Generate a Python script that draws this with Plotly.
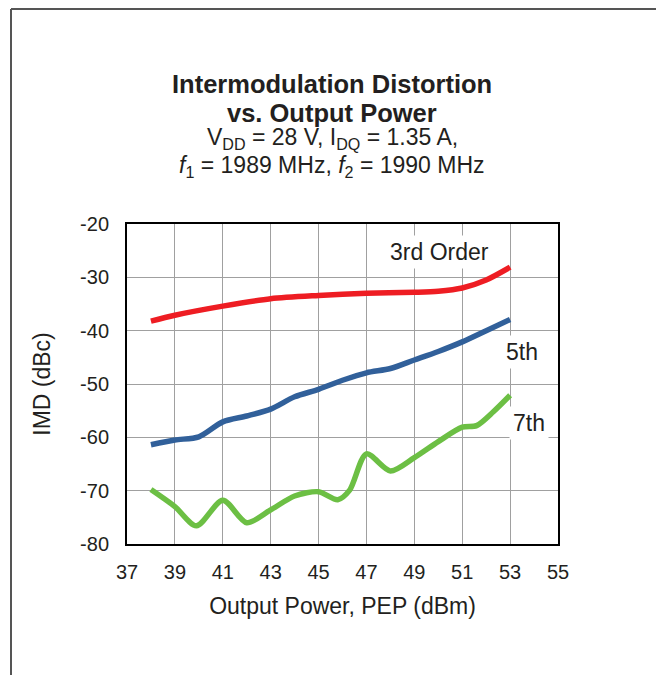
import plotly.graph_objects as go

# ---- data ----
x_3rd = [38, 39, 41, 43, 45, 47, 49, 50, 51, 52, 53]
y_3rd = [-38.2, -37.1, -35.4, -34.0, -33.4, -33.0, -32.8, -32.6, -32.0, -30.5, -28.1]

x_5th = [38, 39, 40, 41, 42, 43, 44, 45, 46, 47, 48, 49, 50, 51, 52, 53]
y_5th = [-61.4, -60.5, -59.9, -57.1, -56.0, -54.7, -52.4, -51.0, -49.3, -47.9, -47.1,
         -45.5, -43.9, -42.1, -40.0, -37.9]

x_7th = [38, 39, 39.9, 41, 42, 43, 44, 45, 45.8, 46.3, 47, 48, 49, 50, 51, 51.6, 52.3, 53]
y_7th = [-69.8, -73.0, -76.6, -71.8, -76.0, -73.6, -71.0, -70.2, -71.7, -69.9, -63.1,
         -66.3, -63.8, -60.8, -58.1, -57.8, -55.2, -52.1]

series_names = ["3rd Order", "5th", "7th"]
series_colors = ["#EE1D23", "#31609A", "#6CBF44"]

x_ticks = [37, 39, 41, 43, 45, 47, 49, 51, 53, 55]
y_ticks = [-20, -30, -40, -50, -60, -70, -80]

FONT = "Liberation Sans, Arial, sans-serif"

# page offset of the plotly div (body margin)
OFF = 8
W, H = 664 - OFF, 675 - OFF
# plot area geometry in page pixels
L, R, T, B = 127, 558, 224, 544


def px(xp):
    return (xp - L) / (R - L)


def py(yp):
    return (B - yp) / (B - T)


fig = go.Figure()
for xs, ys, name, col in zip([x_3rd, x_5th, x_7th], [y_3rd, y_5th, y_7th],
                             series_names, series_colors):
    fig.add_trace(go.Scatter(x=xs, y=ys, mode="lines", name=name,
                             line=dict(color=col, width=5.5, shape="spline", smoothing=0.8),
                             showlegend=False))

# curve labels
label_pos = [(50.07, -25.25), (53.5, -44.0), (53.77, -57.4)]
for (lx, ly), name in zip(label_pos, series_names):
    fig.add_annotation(x=lx, y=ly, text=name, showarrow=False,
                       font=dict(family=FONT, size=23, color="#231F20"),
                       bgcolor="white", borderpad=3)

# title block
title_lines = [
    ("<b>Intermodulation Distortion</b>", 25.5, 84),
    ("<b>vs. Output Power</b>", 25.5, 113),
    ("V<sub>DD</sub> = 28 V, I<sub>DQ</sub> = 1.35 A,", 23, 138),
    ("<i>f</i><sub>1</sub> = 1989 MHz, <i>f</i><sub>2</sub> = 1990 MHz", 23, 167),
]
for txt, sz, ypix in title_lines:
    fig.add_annotation(xref="paper", yref="paper", x=px(332), y=py(ypix), text=txt,
                       showarrow=False, xanchor="center", yanchor="middle",
                       font=dict(family=FONT, size=sz, color="#231F20"))

# outer frame
fig.add_shape(type="line", xref="paper", yref="paper", x0=px(11), x1=px(11),
              y0=py(9), y1=py(700), line=dict(color="#555555", width=2))
fig.add_shape(type="line", xref="paper", yref="paper", x0=px(11), x1=px(662),
              y0=py(9), y1=py(9), line=dict(color="#555555", width=2))
fig.add_shape(type="line", xref="paper", yref="paper", x0=px(662), x1=px(662),
              y0=py(9), y1=py(700), line=dict(color="#222222", width=2))

fig.update_layout(
    width=W, height=H,
    margin=dict(l=L - OFF, r=W - (R - OFF), t=T - OFF, b=H - (B - OFF), autoexpand=False),
    paper_bgcolor="white", plot_bgcolor="white",
    font=dict(family=FONT, color="#231F20"),
)
fig.update_xaxes(range=[37, 55], tickvals=x_ticks, ticktext=[str(v) for v in x_ticks],
                 showgrid=True, gridcolor="#A0A0A0", gridwidth=1,
                 showline=True, linecolor="black", linewidth=2, mirror=True,
                 ticks="", ticklabelstandoff=9, zeroline=False,
                 tickfont=dict(size=20, family=FONT, color="#231F20"),
                 title=dict(text="Output Power, PEP (dBm)", standoff=16,
                            font=dict(size=23, family=FONT, color="#231F20")))
fig.update_yaxes(range=[-80, -20], tickvals=y_ticks, ticktext=[str(v) for v in y_ticks],
                 showgrid=True, gridcolor="#A0A0A0", gridwidth=1,
                 showline=True, linecolor="black", linewidth=2, mirror=True,
                 ticks="", ticklabelstandoff=12, zeroline=False,
                 tickfont=dict(size=20, family=FONT, color="#231F20"),
                 title=dict(text="IMD (dBc)", standoff=23,
                            font=dict(size=23, family=FONT, color="#231F20")))

fig.write_html("out.html")
